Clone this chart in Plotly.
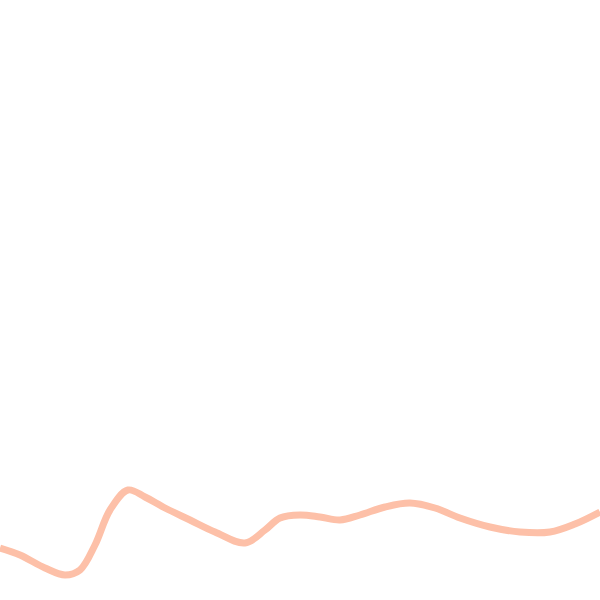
import plotly.graph_objects as go

x_vals = [0, 20, 45, 65, 80, 95, 110, 128, 145, 165, 190, 215, 245, 265, 280, 300, 320, 340, 360, 385, 410, 435, 460, 490, 520, 550, 575, 600]
y_vals = [52, 45, 32, 25, 30, 55, 90, 110, 103, 92, 80, 68, 57, 70, 82, 85, 83, 80, 85, 93, 97, 92, 82, 73, 68, 68, 76, 88]

fig = go.Figure()
fig.add_trace(go.Scatter(
    x=x_vals, y=y_vals, mode="lines",
    line=dict(color="#FDC0A8", width=7, shape="spline", smoothing=1.0),
    hoverinfo="skip", showlegend=False,
))
fig.update_layout(
    width=600, height=600,
    margin=dict(l=0, r=0, t=0, b=0),
    paper_bgcolor="white", plot_bgcolor="white",
    xaxis=dict(range=[0, 600], visible=False, fixedrange=True),
    yaxis=dict(range=[0, 600], visible=False, fixedrange=True),
    showlegend=False,
)
fig.write_html(
    "out.html",
    config={"displayModeBar": False, "staticPlot": True},
    post_script="document.body.style.margin='0';document.body.style.overflow='hidden';",
)
